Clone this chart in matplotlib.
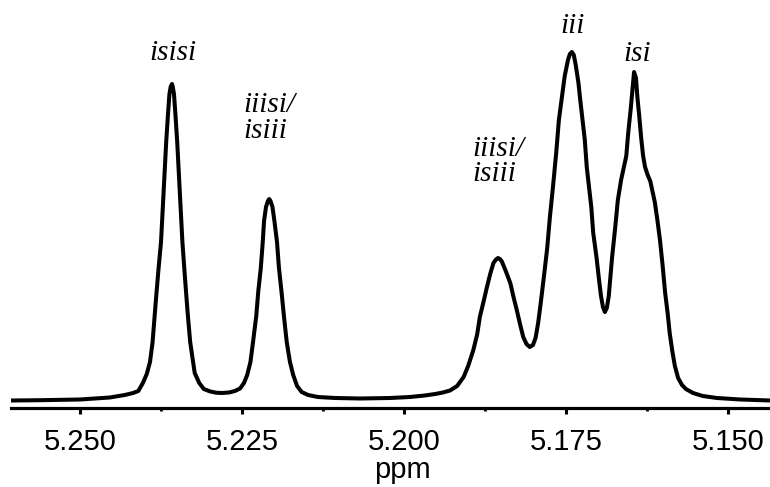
import matplotlib
matplotlib.use("Agg")
import matplotlib.pyplot as plt
from matplotlib.ticker import FixedLocator

# chemical shift (ppm) and intensity
shift = [5.2606, 5.2562, 5.2500, 5.2454, 5.2431, 5.2418, 5.2410, 5.2403, 5.2397, 5.2392,
         5.2388, 5.2383, 5.2379, 5.2375, 5.2371, 5.2367, 5.2364, 5.2362, 5.2360, 5.2358,
         5.2357, 5.2355, 5.2353, 5.2350, 5.2346, 5.2342, 5.2338, 5.2334, 5.2330, 5.2326,
         5.2323, 5.2316, 5.2309, 5.2299, 5.2290, 5.2281, 5.2270, 5.2261, 5.2253, 5.2247,
         5.2242, 5.2237, 5.2233, 5.2228, 5.2225, 5.2221, 5.2218, 5.2216, 5.2213, 5.2210,
         5.2208, 5.2206, 5.2203, 5.2200, 5.2196, 5.2193, 5.2189, 5.2185, 5.2181, 5.2176,
         5.2171, 5.2165, 5.2158, 5.2148, 5.2133, 5.2106, 5.2068, 5.2022, 5.1991, 5.1968,
         5.1952, 5.1940, 5.1929, 5.1918, 5.1908, 5.1901, 5.1893, 5.1887, 5.1883, 5.1877,
         5.1872, 5.1867, 5.1862, 5.1858, 5.1855, 5.1852, 5.1849, 5.1843, 5.1836, 5.1831,
         5.1826, 5.1821, 5.1816, 5.1811, 5.1806, 5.1801, 5.1797, 5.1793, 5.1789, 5.1784,
         5.1779, 5.1775, 5.1770, 5.1765, 5.1761, 5.1756, 5.1752, 5.1747, 5.1744, 5.1741,
         5.1738, 5.1735, 5.1731, 5.1728, 5.1721, 5.1718, 5.1711, 5.1708, 5.1703, 5.1699,
         5.1696, 5.1693, 5.1690, 5.1687, 5.1684, 5.1679, 5.1674, 5.1670, 5.1665, 5.1661,
         5.1657, 5.1654, 5.1650, 5.1647, 5.1645, 5.1642, 5.1640, 5.1637, 5.1634, 5.1631,
         5.1628, 5.1624, 5.1620, 5.1617, 5.1613, 5.1609, 5.1605, 5.1601, 5.1597, 5.1593,
         5.1590, 5.1586, 5.1582, 5.1577, 5.1571, 5.1565, 5.1554, 5.1539, 5.1517, 5.1481,
         5.1435]
intensity = [7.5, 7.8, 8.5, 10.5, 13, 15, 17, 25, 34, 46,
             66, 107, 138, 166, 215, 266, 296, 314, 321.5, 324,
             321.5, 314, 296, 266, 215, 166, 130, 96, 66, 48,
             35, 25, 19, 16.5, 15.3, 15, 15.5, 17, 19.5, 25,
             33, 46, 66, 92, 116, 140, 166, 187, 201, 207,
             209, 207, 201, 187, 166, 140, 116, 90, 66, 46,
             33, 22, 16, 13, 11, 10, 9.5, 10, 11, 12.5,
             14, 15.5, 17.5, 22, 31, 42, 58, 74, 91, 107,
             121, 134, 145, 148.5, 150, 149, 146.5, 137, 125, 111,
             98, 84, 71, 64, 61, 63, 70, 85, 105, 132,
             160, 190, 222, 256, 288, 312, 332, 348, 354, 356,
             353, 343, 326, 308, 268, 241, 201, 175, 151, 128,
             112, 101, 96, 100, 112, 150, 181, 208, 228, 240,
             252, 275, 300, 322, 336, 330, 312, 292, 270, 252,
             241, 233, 227, 218, 206, 188, 168, 143, 115, 94,
             75, 57, 42, 30, 23, 19, 15, 12, 10, 8.5,
             7.5]

major_ticks = [5.250, 5.225, 5.200, 5.175, 5.150]
minor_ticks = [5.2375, 5.2125, 5.1875, 5.1625]

# peak assignments: (text, ppm, height, alignment)
labels = [("isisi", 5.2357, 348, "center"),
          ("iiisi/", 5.2248, 296, "left"),
          ("isiii", 5.2248, 270, "left"),
          ("iiisi/", 5.1895, 252, "left"),
          ("isiii", 5.1895, 227, "left"),
          ("iii", 5.1740, 375, "center"),
          ("isi", 5.1640, 347, "center")]

fig = plt.figure(figsize=(7.7, 4.87), dpi=100)
ax = fig.add_axes([11 / 770, 79 / 487, 759 / 770, 408 / 487])

ax.plot(shift, intensity, color="black", lw=2.9, solid_joinstyle="round", solid_capstyle="round")

for txt, x, y, ha in labels:
    ax.text(x, y, txt, ha=ha, va="baseline", fontsize=21, style="italic",
            family=["Liberation Serif", "DejaVu Serif"], clip_on=False)

ax.set_xlim(5.26065, 5.14352)
ax.set_ylim(0, 408)

for s in ["top", "right", "left"]:
    ax.spines[s].set_visible(False)
ax.spines["bottom"].set_linewidth(2.3)
ax.set_yticks([])

ax.xaxis.set_major_locator(FixedLocator(major_ticks))
ax.xaxis.set_minor_locator(FixedLocator(minor_ticks))
ax.set_xticklabels(["%.3f" % t for t in major_ticks],
                   fontsize=21, family=["Liberation Sans", "DejaVu Sans"])
ax.tick_params(axis="x", which="major", direction="out", length=4.5, width=2.2, pad=10)
ax.tick_params(axis="x", which="minor", direction="out", length=2, width=2)
ax.set_xlabel("ppm", fontsize=21, family=["Liberation Sans", "DejaVu Sans"])
ax.xaxis.set_label_coords(0.516, -0.118)

fig.savefig("out.png", dpi=100)
